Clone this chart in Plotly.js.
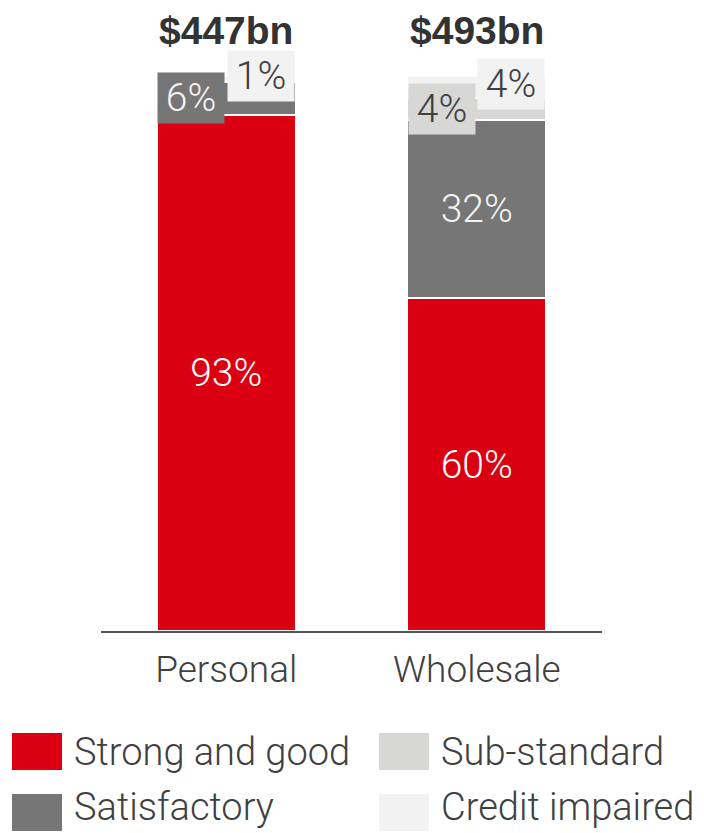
<!DOCTYPE html>
<html>
<head>
<meta charset="utf-8">
<script src="https://cdn.plot.ly/plotly-3.0.1.min.js"></script>
<style>
  html, body { margin: 0; padding: 0; background: #ffffff; }
  #chart { width: 704px; height: 833px; }
</style>
</head>
<body>
<div id="chart"></div>
<script>
// ---- data ----
const categories = ['Personal', 'Wholesale'];
const seriesNames = ['Strong and good', 'Satisfactory', 'Sub-standard', 'Credit impaired'];
const strongAndGood = [93, 60];
const satisfactory = [6, 32];
const subStandard = [0, 4];
const creditImpaired = [1, 4];
const totals = ['$447bn', '$493bn'];

// ---- styles ----
const seriesColors = ['#db0011', '#767676', '#d7d7d5', '#f2f2f2'];
const labelTextColors = ['#ffffff', '#f4f4f4', '#404040', '#404040'];
const FONT = 'Roboto, "Liberation Sans", Arial, sans-serif';
const TXT = '#404040';

const W = 704, H = 833;
const M = { l: 101, r: 102, t: 76, b: 202 };
const plotW = W - M.l - M.r, plotH = H - M.t - M.b;
const px2x = px => (px - M.l) / plotW;
const py2y = py => (H - M.b - py) / plotH;

const seriesValues = [strongAndGood, satisfactory, subStandard, creditImpaired];

const traces = seriesValues.map((vals, i) => ({
  type: 'bar',
  name: seriesNames[i],
  x: categories,
  y: vals,
  marker: { color: seriesColors[i], line: { color: '#ffffff', width: 2 } },
  text: vals.map(v => (v >= 10 ? v + '%' : '')),
  textposition: 'inside',
  insidetextanchor: 'middle',
  textangle: 0,
  constraintext: 'none',
  textfont: { family: FONT, size: 39, color: labelTextColors[i], weight: 300 },
  hoverinfo: 'skip',
  showlegend: false
}));

const annotations = [];

// small segment labels as boxes: lower one to the left, upper one to the right
categories.forEach((cat, c) => {
  let cum = 0;
  const small = [];
  seriesValues.forEach((vals, i) => {
    const v = vals[c];
    if (v > 0 && v < 10) small.push({ i: i, v: v, mid: cum + v / 2 });
    cum += v;
  });
  small.forEach((s, k) => {
    const left = k === 0 && small.length > 1;
    annotations.push({
      x: cat, y: s.mid, xref: 'x', yref: 'y',
      text: s.v + '%',
      showarrow: false,
      xanchor: 'center', yanchor: 'middle',
      xshift: left ? -35 : 34.5,
      yshift: left ? 0 : 3,
      width: 62, height: 46, borderpad: 2,
      bgcolor: seriesColors[s.i],
      font: { family: FONT, size: 39, color: labelTextColors[s.i], weight: 300 }
    });
  });
  // totals
  annotations.push({
    x: cat, y: 100, xref: 'x', yref: 'y',
    text: '<b>' + totals[c] + '</b>',
    showarrow: false, xanchor: 'center', yanchor: 'bottom', yshift: 22,
    font: { family: '"Liberation Sans", Arial, sans-serif', size: 39, color: '#333333' }
  });
});

// custom legend
const shapes = [];
const colX = [12, 379], rowY = [733, 794], sqW = 50, sqH = 37;
const rowTextY = [752, 807];
seriesNames.forEach((name, i) => {
  const col = Math.floor(i / 2), row = i % 2;
  const x0 = colX[col], y0 = rowY[row];
  shapes.push({
    type: 'rect', xref: 'paper', yref: 'paper',
    x0: px2x(x0), x1: px2x(x0 + sqW), y0: py2y(y0 + sqH), y1: py2y(y0),
    fillcolor: seriesColors[i], line: { width: 0 }
  });
  annotations.push({
    xref: 'paper', yref: 'paper',
    x: px2x(x0 + sqW + 10), y: py2y(rowTextY[row]),
    text: name, showarrow: false, xanchor: 'left', yanchor: 'middle',
    font: { family: FONT, size: 38, color: TXT, weight: 300 }
  });
});

const layout = {
  width: W, height: H,
  margin: M,
  paper_bgcolor: '#ffffff', plot_bgcolor: '#ffffff',
  barmode: 'stack',
  bargap: 0.445,
  showlegend: false,
  font: { family: FONT, color: TXT },
  xaxis: {
    type: 'category',
    showline: true, linecolor: '#555555', linewidth: 2,
    ticks: '', showgrid: false, zeroline: false,
    ticklabelstandoff: 5,
    tickfont: { family: FONT, size: 37, color: TXT, weight: 300 },
    fixedrange: true
  },
  yaxis: {
    range: [0, 100], visible: false, showgrid: false, zeroline: false, fixedrange: true
  },
  annotations: annotations,
  shapes: shapes
};

Plotly.newPlot('chart', traces, layout, { displayModeBar: false, staticPlot: true });
</script>
</body>
</html>
